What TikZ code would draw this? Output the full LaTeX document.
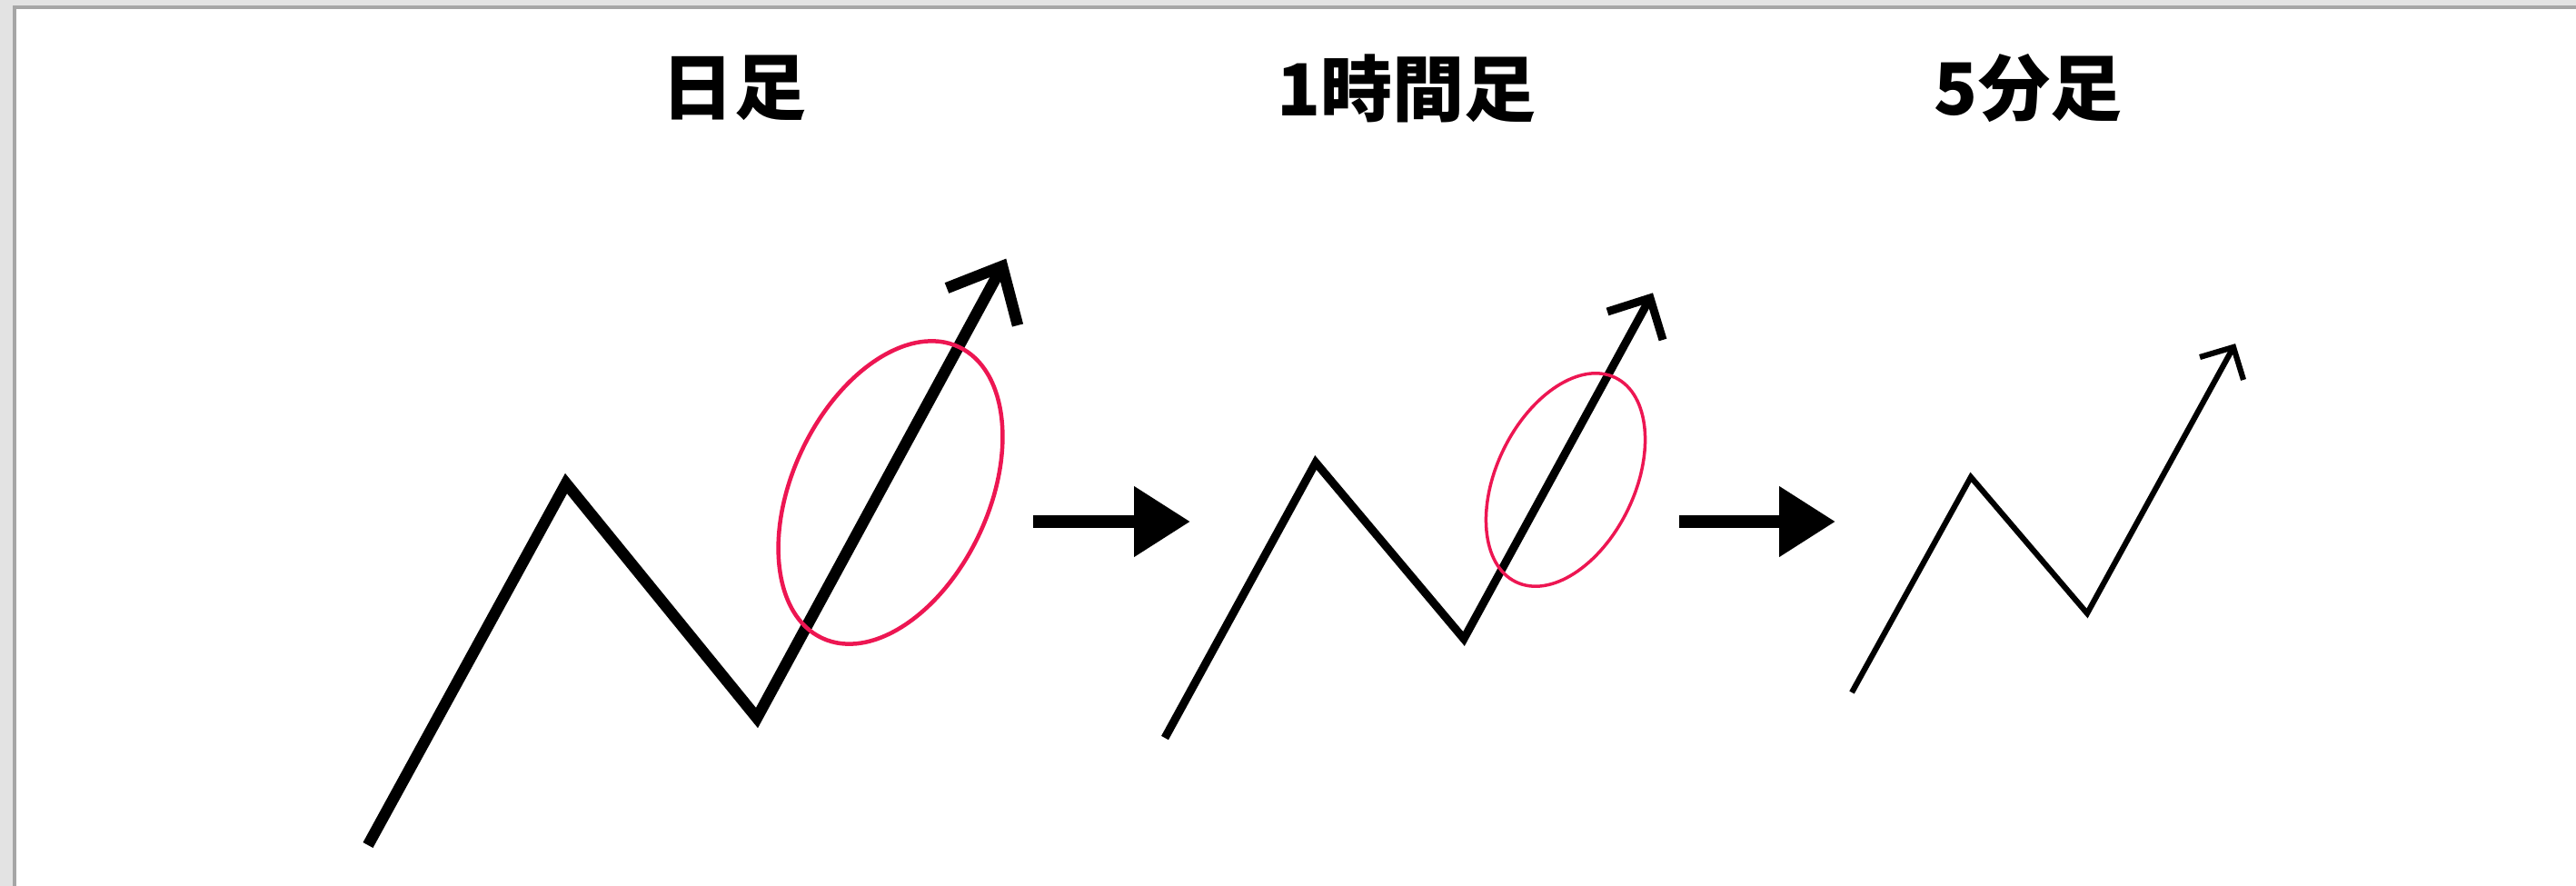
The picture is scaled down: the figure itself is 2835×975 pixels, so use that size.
\documentclass[tikz,border=0pt]{standalone}
\usepackage{fontspec}
\newfontfamily\jp{Noto Sans CJK JP}
\usetikzlibrary{arrows.meta,shapes.geometric}
\definecolor{framelight}{HTML}{E3E3E3}
\definecolor{framedark}{HTML}{A6A6A6}
\definecolor{marker}{RGB}{237,22,82}
\tikzset{
  title/.style={font=\jp\bfseries\fontsize{22.5pt}{27pt}\selectfont, inner sep=0pt},
  zig/.style={line join=miter, line cap=butt},
  headline/.style={line join=miter, line cap=butt},
  mark1/.style={ellipse, draw=marker, inner sep=0pt, outer sep=0pt},
  step arrow/.style={line width=1.45mm, -{Triangle[length=6.2mm, width=7.4mm]}},
}
\begin{document}
\begin{tikzpicture}[x=0.1mm, y=-0.1mm]
  % frame
  \fill[framelight] (0,0) rectangle (2835,975);
  \fill[framedark] (14,6) rectangle (2835,975);
  \fill[white] (18,10) rectangle (2835,975);
  \useasboundingbox (0,0) rectangle (2835,975);

  % titles
  \node[title] (t1) at (808,97) {日足};
  \node[title] (t2) at (1548,97) {1時間足};
  \node[title] (t3) at (2232,97) {5分足};

  % chart 1 (daily)
  \coordinate (A1) at (405,930);
  \coordinate (P1) at (623,532);
  \coordinate (Q1) at (833,790);
  \coordinate (T1) at (1103,293);
  \coordinate (W1a) at (1042,317);
  \coordinate (W1b) at (1120,358);
  \draw[zig, line width=1.25mm] (A1) -- (P1) -- (Q1) -- (T1);
  \draw[headline, line width=1.25mm] (W1a) -- (T1) -- (W1b);
  \node[mark1, line width=0.45mm, minimum width=35.4mm, minimum height=21.6mm, rotate=64.8] (E1) at (980,542) {};

  % step arrow 1
  \coordinate (H1s) at (1137,574);
  \coordinate (H1e) at (1310,574);
  \draw[step arrow] (H1s) -- (H1e);

  % chart 2 (1 hour)
  \coordinate (A2) at (1282,812);
  \coordinate (P2) at (1448,509);
  \coordinate (Q2) at (1611,703);
  \coordinate (T2) at (1816,328);
  \coordinate (W2a) at (1769,343);
  \coordinate (W2b) at (1830,374);
  \draw[zig, line width=0.9mm] (A2) -- (P2) -- (Q2) -- (T2);
  \draw[headline, line width=0.9mm] (W2a) -- (T2) -- (W2b);
  \node[mark1, line width=0.35mm, minimum width=25mm, minimum height=15.2mm, rotate=64] (E2) at (1723,528) {};

  % step arrow 2
  \coordinate (H2s) at (1848,574);
  \coordinate (H2e) at (2020,574);
  \draw[step arrow] (H2s) -- (H2e);

  % chart 3 (5 min)
  \coordinate (A3) at (2038,762);
  \coordinate (P3) at (2169,525);
  \coordinate (Q3) at (2297,675);
  \coordinate (T3) at (2458,382);
  \coordinate (W3a) at (2421,393);
  \coordinate (W3b) at (2469,418);
  \draw[zig, line width=0.62mm] (A3) -- (P3) -- (Q3) -- (T3);
  \draw[headline, line width=0.62mm] (W3a) -- (T3) -- (W3b);
\end{tikzpicture}
\end{document}
